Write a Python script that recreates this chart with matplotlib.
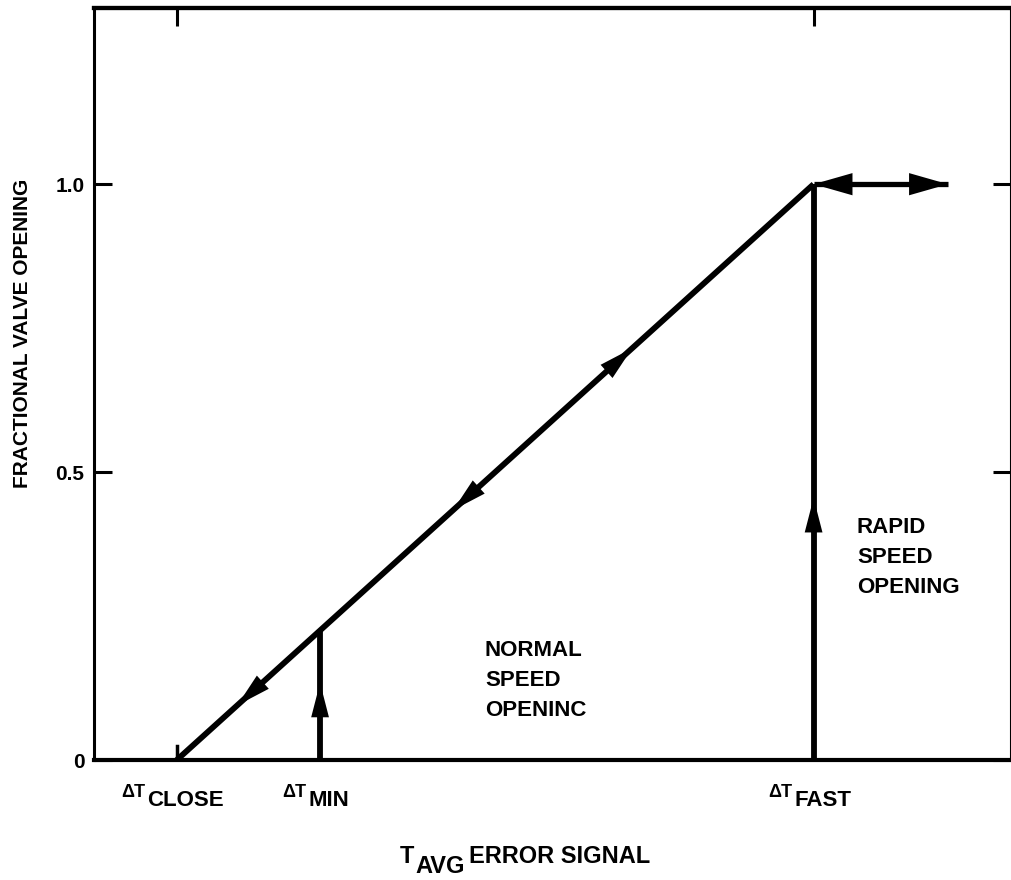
import matplotlib
matplotlib.use("Agg")
import matplotlib.pyplot as plt
from matplotlib.transforms import offset_copy, blended_transform_factory

# ---- data (error signal in units where dT_CLOSE=0, dT_FAST=1) ----
x_close = 0.0
x_min = 0.225
x_fast = 1.0
y_full = 1.0
diag_x = [x_close, x_fast]
diag_y = [0.0, y_full]
rapid_x = [x_fast, 1.211]          # double arrow extent at full opening
y_ticks = [0.0, 0.5, 1.0]
y_ticklabels = ["0", "0.5", "1.0"]
top_ticks = [x_close, x_fast]
up_diag_tip = 0.715                # arrow tip positions along lines
down_diag_tips = [0.434, 0.095]
min_up_tip = 0.134
fast_up_tip = 0.455
bottom_labels = [(x_close, "ΔT", "CLOSE"), (x_min, "ΔT", "MIN"), (x_fast, "ΔT", "FAST")]
ylabel = "FRACTIONAL VALVE OPENING"
normal_text = "NORMAL\nSPEED\nOPENINC"
rapid_text = "RAPID\nSPEED\nOPENING"

plt.rcParams['font.family'] = ['Liberation Sans', 'DejaVu Sans']
plt.rcParams['font.weight'] = 'bold'

W, H = 1012, 880
fig = plt.figure(figsize=(W / 100, H / 100), dpi=100)
ax = fig.add_axes([94 / W, 1 - 760 / H, (1011 - 94) / W, (760 - 8) / H])
ax.set_xlim(-0.13, 1.31)
ax.set_ylim(0, 1.306)

LW = 4.2
ax.plot(diag_x, diag_y, color='k', lw=LW, solid_capstyle='butt')
ax.plot([x_min, x_min], [0, x_min], color='k', lw=LW, solid_capstyle='butt')
ax.plot([x_fast, x_fast], [0, y_full], color='k', lw=LW, solid_capstyle='butt')
# small stub at dT_CLOSE
ax.plot([x_close, x_close], [0, 0.025], color='k', lw=2.5)

def arrow_at(tip, back, hl=0.62, hw=0.16, ms=40):
    ax.annotate('', xy=tip, xytext=back,
                arrowprops=dict(arrowstyle=f'-|>,head_length={hl},head_width={hw}',
                                mutation_scale=ms, color='k', lw=0,
                                shrinkA=0, shrinkB=0))

d = 0.03
arrow_at((up_diag_tip, up_diag_tip), (up_diag_tip - d, up_diag_tip - d))
for t in down_diag_tips:
    arrow_at((t, t), (t + d, t + d))
arrow_at((x_min, min_up_tip), (x_min, min_up_tip - 0.04))
arrow_at((x_fast, fast_up_tip), (x_fast, fast_up_tip - 0.04))

# rapid-opening double arrow
ax.plot(rapid_x, [y_full, y_full], color='k', lw=3.8, solid_capstyle='butt')
arrow_at((rapid_x[0], y_full), (rapid_x[0] + 0.05, y_full), hl=0.7, hw=0.2, ms=40)
arrow_at((rapid_x[1], y_full), (rapid_x[1] - 0.05, y_full), hl=0.7, hw=0.2, ms=40)

# spines / ticks
for s, w in zip(['left', 'bottom', 'top', 'right'], [2.2, 3.0, 3.0, 1.5]):
    ax.spines[s].set_linewidth(w)
ax.set_xticks([])
ax.set_yticks(y_ticks)
ax.set_yticklabels(y_ticklabels, fontsize=15, fontweight='bold')
ax.tick_params(axis='y', direction='in', length=13, width=2.2, right=True, pad=7)
sec = ax.secondary_xaxis('top')
sec.set_xticks(top_ticks)
sec.set_xticklabels([])
sec.tick_params(direction='in', length=13, width=2.2)
sec.spines['top'].set_linewidth(3.0)

fig.text(23 / W, 1 - 333 / H, ylabel, rotation=90, ha='center', va='center',
         fontsize=15, fontweight='bold')

ax.text((485 - 94) / 917, (760 - 640) / 752, normal_text, transform=ax.transAxes,
        fontsize=16, fontweight='bold', va='top', ha='left', linespacing=1.55)
ax.text((857 - 94) / 917, (760 - 517) / 752, rapid_text, transform=ax.transAxes,
        fontsize=16, fontweight='bold', va='top', ha='left', linespacing=1.55)

# composite bottom labels
trans = blended_transform_factory(ax.transData, ax.transAxes)
pairs = []
for x, main, sub in bottom_labels:
    t1 = ax.text(x, 0, main, transform=trans, ha='left', va='baseline', fontsize=13, fontweight='bold')
    t2 = ax.text(x, 0, sub, transform=trans, ha='left', va='baseline', fontsize=16, fontweight='bold')
    pairs.append((t1, t2))

figtrans = fig.transFigure
xl1 = fig.text(0, 0, "T", transform=figtrans, ha='left', va='baseline', fontsize=17, fontweight='bold')
xl2 = fig.text(0, 0, "AVG", transform=figtrans, ha='left', va='baseline', fontsize=17, fontweight='bold')
xl3 = fig.text(0, 0, "ERROR SIGNAL", transform=figtrans, ha='left', va='baseline', fontsize=17, fontweight='bold')

fig.canvas.draw()
r = fig.canvas.get_renderer()
gap = 2
for t1, t2 in pairs:
    w1 = t1.get_window_extent(r).width
    w2 = t2.get_window_extent(r).width
    start = -(w1 + gap + w2) / 2 - 4
    t1.set_transform(offset_copy(trans, fig, x=start, y=-37, units='dots'))
    t2.set_transform(offset_copy(trans, fig, x=start + w1 + gap, y=-46, units='dots'))

# x label: starts at px 400
x0 = 400
w1 = xl1.get_window_extent(r).width
w2 = xl2.get_window_extent(r).width
xl1.set_position((x0 / W, 1 - 863 / H))
xl2.set_position(((x0 + w1 + 1) / W, 1 - 873 / H))
xl3.set_position(((x0 + w1 + w2 + 5) / W, 1 - 863 / H))

fig.savefig("out.png", dpi=100, facecolor='white')
